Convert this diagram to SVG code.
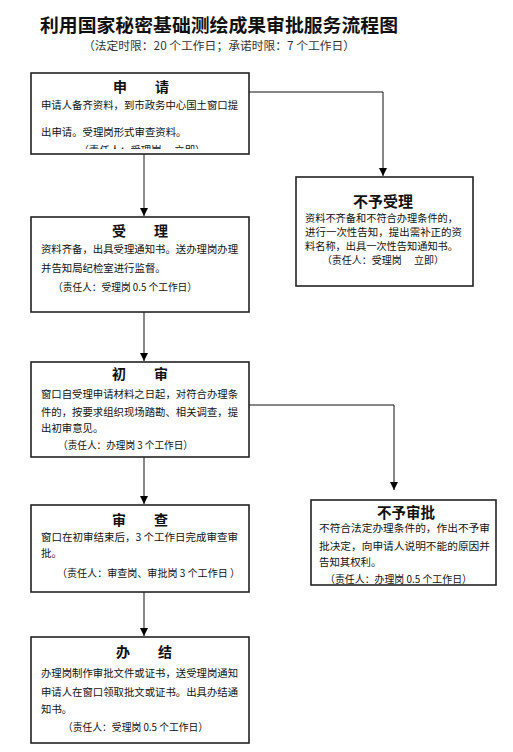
<svg xmlns="http://www.w3.org/2000/svg" width="513" height="752" viewBox="0 0 513 752">
<style>
text{font-family:"Noto Sans CJK SC","Noto Sans",sans-serif;fill:#111}
.title{font-size:18.5px;font-weight:bold}
.sub{font-size:11.5px;fill:#333}
.h{font-size:14px;font-weight:bold;text-anchor:middle}
.b{font-size:10.4px}
.s{font-size:10px}
.c{text-anchor:middle}
.box{fill:#fff;stroke:#222;stroke-width:1.6}
.ln{fill:none;stroke:#111;stroke-width:1}
</style>
<defs>
<marker id="ar" viewBox="0 0 8 8" refX="8" refY="4" markerWidth="8" markerHeight="8" orient="auto" markerUnits="userSpaceOnUse">
<path d="M0,0 L8,4 L0,8 Z" fill="#000"/>
</marker>
<clipPath id="c1"><rect x="31" y="73" width="218" height="76"/></clipPath>
</defs>
<rect width="513" height="752" fill="#fff"/>
<text class="title" x="40" y="32" textLength="358" lengthAdjust="spacingAndGlyphs">利用国家秘密基础测绘成果审批服务流程图</text>
<text class="sub" x="83" y="50" textLength="272" lengthAdjust="spacingAndGlyphs">（法定时限：20 个工作日；承诺时限：7 个工作日）</text>

<g id="connectors">
<path class="ln" d="M249,92 H383 V176" marker-end="url(#ar)"/>
<path class="ln" d="M144,154 V216" style="stroke:#666;stroke-width:1.5" marker-end="url(#ar)"/>
<path class="ln" d="M144,312 V361" marker-end="url(#ar)"/>
<path class="ln" d="M249,405 H394 V490" marker-end="url(#ar)"/>
<path class="ln" d="M144,457 V504" marker-end="url(#ar)"/>
<path class="ln" d="M144,592 V636" marker-end="url(#ar)"/>
</g>

<g id="apply">
<rect class="box" x="31" y="73" width="218" height="81"/>
<g clip-path="url(#c1)">
<text class="h" x="141" y="92">申　　请</text>
<text class="b" x="41" y="109" textLength="197" lengthAdjust="spacingAndGlyphs">申请人备齐资料，到市政务中心国土窗口提</text>
<text class="b" x="41" y="136">出申请。受理岗形式审查资料。</text>
<text class="b c" x="142" y="154">（责任人：受理岗　 立即）</text>
</g>
</g>

<g id="reject-accept">
<rect class="box" x="296" y="177" width="177" height="109"/>
<text class="h" x="383" y="207" style="font-size:15px">不予受理</text>
<text class="s" x="305" y="221.5" textLength="153" lengthAdjust="spacingAndGlyphs">资料不齐备和不符合办理条件的，</text>
<text class="s" x="305" y="236" textLength="157" lengthAdjust="spacingAndGlyphs">进行一次性告知，提出需补正的资</text>
<text class="s" x="305" y="250" textLength="153" lengthAdjust="spacingAndGlyphs">料名称，出具一次性告知通知书。</text>
<text class="s c" x="383" y="264">（责任人：受理岗　 立即）</text>
</g>

<g id="accept">
<rect class="box" x="31" y="217" width="218" height="95"/>
<text class="h" x="140" y="236">受　　理</text>
<text class="b" x="41" y="253" textLength="197" lengthAdjust="spacingAndGlyphs">资料齐备，出具受理通知书。送办理岗办理</text>
<text class="b" x="41" y="272">并告知局纪检室进行监督。</text>
<text class="b" x="53" y="291" textLength="144" lengthAdjust="spacingAndGlyphs">（责任人：受理岗 0.5 个工作日）</text>
</g>

<g id="first-review">
<rect class="box" x="31" y="362" width="218" height="95"/>
<text class="h" x="140" y="379">初　　审</text>
<text class="b" x="41" y="398" textLength="197" lengthAdjust="spacingAndGlyphs">窗口自受理申请材料之日起，对符合办理条</text>
<text class="b" x="41" y="416" textLength="197" lengthAdjust="spacingAndGlyphs">件的，按要求组织现场踏勘、相关调查，提</text>
<text class="b" x="41" y="432">出初审意见。</text>
<text class="b" x="58" y="449" textLength="135" lengthAdjust="spacingAndGlyphs">（责任人：办理岗 3 个工作日）</text>
</g>

<g id="reject-approve">
<rect class="box" x="311" y="500" width="185" height="85"/>
<text class="h" x="406" y="518" style="font-size:14.5px">不予审批</text>
<text class="b" x="319" y="532" textLength="171" lengthAdjust="spacingAndGlyphs">不符合法定办理条件的，作出不予审</text>
<text class="b" x="319" y="550" textLength="171" lengthAdjust="spacingAndGlyphs">批决定，向申请人说明不能的原因并</text>
<text class="b" x="319" y="566">告知其权利。</text>
<text class="b" x="325" y="583" textLength="147" lengthAdjust="spacingAndGlyphs">（责任人：办理岗 0.5 个工作日）</text>
</g>

<g id="review">
<rect class="box" x="31" y="505" width="218" height="87"/>
<text class="h" x="140" y="525">审　　查</text>
<text class="b" x="41" y="541" textLength="197" lengthAdjust="spacingAndGlyphs">窗口在初审结束后，3  个工作日完成审查审</text>
<text class="b" x="41" y="557">批。</text>
<text class="b" x="57" y="577" textLength="183" lengthAdjust="spacingAndGlyphs">（责任人：审查岗、审批岗 3 个工作日 ）</text>
</g>

<g id="finish">
<rect class="box" x="31" y="637" width="218" height="106"/>
<text class="h" x="144" y="657">办　　结</text>
<text class="b" x="41" y="677" textLength="197" lengthAdjust="spacingAndGlyphs">办理岗制作审批文件或证书，送受理岗通知</text>
<text class="b" x="41" y="696" textLength="197" lengthAdjust="spacingAndGlyphs">申请人在窗口领取批文或证书。出具办结通</text>
<text class="b" x="41" y="713">知书。</text>
<text class="b" x="63" y="731" textLength="145" lengthAdjust="spacingAndGlyphs">（责任人：受理岗 0.5 个工作日）</text>
</g>
</svg>
